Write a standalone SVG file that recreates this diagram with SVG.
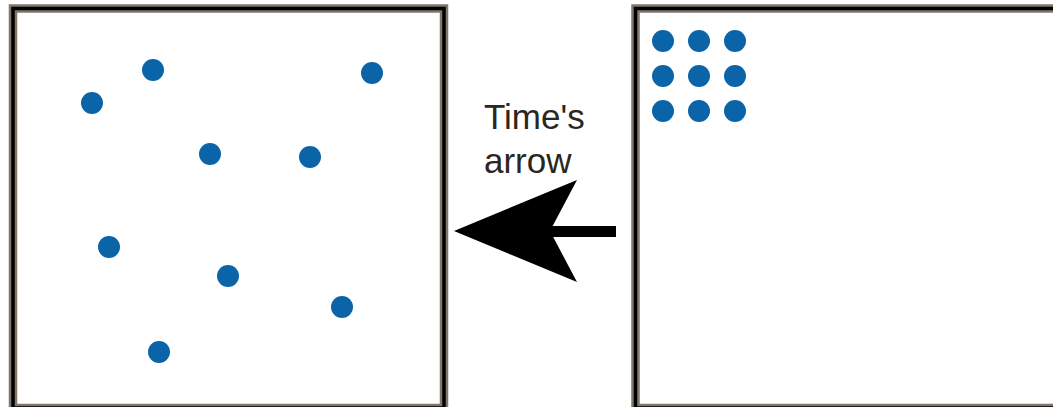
<svg xmlns="http://www.w3.org/2000/svg" width="1053" height="407" viewBox="0 0 1053 407">
<style>
.frame-out{fill:#fff;stroke:#80776a;stroke-width:8.5}
.frame-in{fill:none;stroke:#000;stroke-width:3.5}
.dot{fill:#0b64a8}
.label{font-family:"Liberation Sans",Arial,sans-serif;font-size:35px;fill:#2a2620}
</style>
<g id="before-box">
<rect class="frame-out" x="13" y="8.5" width="431" height="399.5"/>
<rect class="frame-in" x="13" y="8.5" width="431" height="399.5"/>
<circle class="dot" cx="153" cy="70" r="11"/>
<circle class="dot" cx="92" cy="103" r="11"/>
<circle class="dot" cx="372" cy="73" r="11"/>
<circle class="dot" cx="210" cy="154" r="11"/>
<circle class="dot" cx="310" cy="157" r="11"/>
<circle class="dot" cx="109" cy="247" r="11"/>
<circle class="dot" cx="228" cy="276" r="11"/>
<circle class="dot" cx="342" cy="307" r="11"/>
<circle class="dot" cx="159" cy="352" r="11"/>
</g>
<g id="after-box">
<rect class="frame-out" x="635.5" y="8.5" width="430" height="399.5"/>
<rect class="frame-in" x="635.5" y="8.5" width="430" height="399.5"/>
<circle class="dot" cx="663" cy="41" r="11"/>
<circle class="dot" cx="699" cy="41" r="11"/>
<circle class="dot" cx="735" cy="41" r="11"/>
<circle class="dot" cx="663" cy="76" r="11"/>
<circle class="dot" cx="699" cy="76" r="11"/>
<circle class="dot" cx="735" cy="76" r="11"/>
<circle class="dot" cx="663" cy="111" r="11"/>
<circle class="dot" cx="699" cy="111" r="11"/>
<circle class="dot" cx="735" cy="111" r="11"/>
</g>
<g id="connectors">
<line x1="548" y1="231.5" x2="616" y2="231.5" stroke="#000" stroke-width="11"/>
<path d="M454 231 L577 180 L550 231 L577 282 Z" fill="#000"/>
</g>
<g id="label">
<text class="label" x="484" y="129">Time's</text>
<text class="label" x="484" y="173">arrow</text>
</g>
</svg>
